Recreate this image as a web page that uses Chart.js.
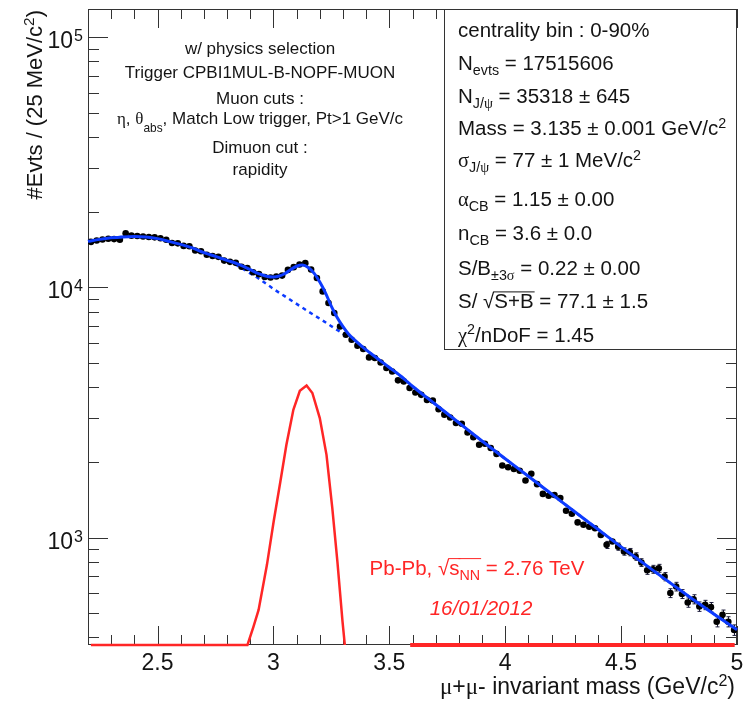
<!DOCTYPE html>
<html>
<head>
<meta charset="utf-8">
<title>J/psi dimuon mass</title>
<script src="https://cdn.jsdelivr.net/npm/chart.js@4.4.1/dist/chart.umd.min.js"></script>
<style>
  body { margin: 0; background: #fff; }
  canvas { display: block; }
</style>
</head>
<body>
<canvas id="massChart" width="753" height="702"></canvas>
<script>
// --- histogram: bin centres (GeV/c^2) and counts per 25 MeV ---
const binCenters = [
  2.2125, 2.2375, 2.2625, 2.2875, 2.3125, 2.3375, 2.3625, 2.3875, 2.4125, 2.4375,
  2.4625, 2.4875, 2.5125, 2.5375, 2.5625, 2.5875, 2.6125, 2.6375, 2.6625, 2.6875,
  2.7125, 2.7375, 2.7625, 2.7875, 2.8125, 2.8375, 2.8625, 2.8875, 2.9125, 2.9375,
  2.9625, 2.9875, 3.0125, 3.0375, 3.0625, 3.0875, 3.1125, 3.1375, 3.1625, 3.1875,
  3.2125, 3.2375, 3.2625, 3.2875, 3.3125, 3.3375, 3.3625, 3.3875, 3.4125, 3.4375,
  3.4625, 3.4875, 3.5125, 3.5375, 3.5625, 3.5875, 3.6125, 3.6375, 3.6625, 3.6875,
  3.7125, 3.7375, 3.7625, 3.7875, 3.8125, 3.8375, 3.8625, 3.8875, 3.9125, 3.9375,
  3.9625, 3.9875, 4.0125, 4.0375, 4.0625, 4.0875, 4.1125, 4.1375, 4.1625, 4.1875,
  4.2125, 4.2375, 4.2625, 4.2875, 4.3125, 4.3375, 4.3625, 4.3875, 4.4125, 4.4375,
  4.4625, 4.4875, 4.5125, 4.5375, 4.5625, 4.5875, 4.6125, 4.6375, 4.6625, 4.6875,
  4.7125, 4.7375, 4.7625, 4.7875, 4.8125, 4.8375, 4.8625, 4.8875, 4.9125, 4.9375,
  4.9625, 4.9875
];
const counts = [
  15200, 15400, 15550, 15650, 15600, 15500, 16450, 16100, 16050, 15980,
  15900, 15850, 15730, 15500, 15050, 15000, 14650, 14600, 14050, 13950,
  13500, 13350, 13250, 12800, 12650, 12550, 12100, 11950, 11500, 11300,
  11000, 10950, 11050, 11150, 11750, 12050, 12350, 12500, 11800, 10900,
  9640, 8660, 7900, 6980, 6470, 6180, 5850, 5670, 5250, 5220,
  5010, 4760, 4610, 4250, 4210, 3960, 3800, 3720, 3550, 3530,
  3260, 3100, 3020, 2870, 2850, 2630, 2520, 2350, 2370, 2280,
  2160, 1940, 1910, 1880, 1850, 1690, 1800, 1635, 1495, 1470,
  1480, 1440, 1280, 1245, 1150, 1125, 1105, 1090, 1025, 935,
  965, 920, 880, 875, 840, 795, 740, 747, 754, 698,
  600, 637, 595, 550, 567, 530, 538, 527, 461, 491,
  461, 427
];

// --- total fit (signal + background) ---
const fitMass = [
  2.2, 2.25, 2.3, 2.35, 2.4, 2.45, 2.5, 2.55, 2.6, 2.65, 2.7, 2.75, 2.8, 2.85, 2.9,
  2.925, 2.95, 2.975, 3.0, 3.025, 3.05, 3.075, 3.1, 3.125, 3.15, 3.175, 3.2, 3.225,
  3.25, 3.275, 3.3, 3.325, 3.35, 3.4, 3.45, 3.5, 3.55, 3.6,
  3.7, 3.8, 3.9, 4.0, 4.1, 4.2, 4.3, 4.4, 4.5, 4.6, 4.7, 4.8, 4.9, 5.0
];
const fitTotal = [
  15280, 15560, 15780, 15920, 15960, 15890, 15670, 15280, 14860, 14390, 13770, 13300, 12830, 12370, 11780,
  11470, 11240, 11060, 11010, 11110, 11370, 11790, 12150, 12280, 12020, 11400, 10500, 9494,
  8398, 7581, 6971, 6500, 6165, 5623, 5188, 4786, 4416, 4027,
  3404, 2877, 2432, 2065, 1758, 1493, 1268, 1079, 918, 785, 671, 575, 495, 428
];

// --- background only (dashed) ---
const bgMass = [
  2.2, 2.25, 2.3, 2.35, 2.4, 2.45, 2.5, 2.55, 2.6, 2.65, 2.7, 2.75, 2.8, 2.85, 2.9,
  2.95, 3.0, 3.05, 3.1, 3.15, 3.2, 3.25, 3.3, 3.35, 3.4, 3.45, 3.5, 3.55, 3.6,
  3.7, 3.8, 3.9, 4.0, 4.1, 4.2, 4.3, 4.4, 4.5, 4.6, 4.7, 4.8, 4.9, 5.0
];
const bgCounts = [
  15280, 15560, 15780, 15920, 15960, 15890, 15670, 15280, 14860, 14390, 13770, 13240, 12710, 12130, 11380,
  10640, 9863, 9204, 8590, 8017, 7499, 6998, 6531, 6095, 5623, 5188, 4786, 4416, 4027,
  3404, 2877, 2432, 2065, 1758, 1493, 1268, 1079, 918, 785, 671, 575, 495, 428
];

// --- J/psi signal shape (red); values below the axis are drawn on the floor ---
const sigMass = [
  2.2125, 2.86, 2.888, 2.914, 2.936, 2.972, 3.001, 3.030, 3.056, 3.086, 3.114,
  3.143, 3.168, 3.200, 3.229, 3.254, 3.276, 3.298, 3.308, 3.45, 3.59, 4.99
];
const sigCounts = [
  0, 0, 372, 441, 514, 778, 1159, 1675, 2348, 3243, 3862,
  4055, 3783, 3004, 2142, 1311, 802, 462, 372, null, 0, 0
];

const xTickValues = [2.5, 3, 3.5, 4, 4.5, 5];
const xTickLabels = ['2.5', '3', '3.5', '4', '4.5', '5'];
const yTickValues = [1e3, 1e4, 1e5];
const yTickExponents = ['3', '4', '5'];

const xMin = 2.2, xMax = 5.0;
const yMin = 372, yMax = 129700;

const blue = '#0d3bff';
const red = '#ff2626';
const textColor = '#141414';
const sans = '"Liberation Sans", Arial, Helvetica, sans-serif';
const serif = '"Liberation Serif", "Times New Roman", serif';

// text pieces: [text, style]  style may hold sub / lsub / sup / greek / over / it
const cutText = [
  [['w/ physics selection']],
  [['Trigger CPBI1MUL-B-NOPF-MUON']],
  [['Muon cuts :']],
  [['η', 'greek'], [', '], ['θ', 'greek'], ['abs', 'lsub'], [', Match Low trigger, Pt>1 GeV/c']],
  [['Dimuon cut :']],
  [['rapidity']]
];
const fitInfo = [
  [['centrality bin : 0-90%']],
  [['N'], ['evts', 'sub'], [' = 17515606']],
  [['N'], ['J/', 'sub'], ['ψ', 'sub greek'], [' = 35318 ± 645']],
  [['Mass = 3.135 ± 0.001 GeV/c'], ['2', 'sup']],
  [['σ', 'greek'], ['J/', 'sub'], ['ψ', 'sub greek'], [' = 77 ± 1 MeV/c'], ['2', 'sup']],
  [['α', 'greek'], ['CB', 'sub'], [' = 1.15 ± 0.00']],
  [['n'], ['CB', 'sub'], [' = 3.6 ± 0.0']],
  [['S/B'], ['±3', 'sub'], ['σ', 'sub greek'], [' = 0.22 ± 0.00']],
  [['S/ '], ['√'], ['S+B', 'over'], [' = 77.1 ± 1.5']],
  [['χ', 'greek'], ['2', 'sup'], ['/nDoF = 1.45']]
];
const energyText = [['Pb-Pb, '], ['√'], ['s', 'over'], ['NN', 'sub over'], [' = 2.76 TeV']];
const dateText = [['16/01/2012', 'it']];
const xTitle = [['μ', 'greek'], ['+'], ['μ', 'greek'], ['- invariant mass (GeV/c'], ['2', 'sup'], [')']];
const yTitle = [['#Evts / (25 MeV/c'], ['2', 'sup'], [')']];

function partFont(style, size) {
  const small = style.includes('sub') || style.includes('sup');
  const s = small ? size * 0.7 : size;
  const fam = style.includes('greek') ? serif : sans;
  return (style.includes('it') ? 'italic ' : '') + s.toFixed(1) + 'px ' + fam;
}

function drawRich(ctx, parts, x, y, size, align) {
  let width = 0;
  for (const p of parts) {
    ctx.font = partFont(p[1] || '', size);
    width += ctx.measureText(p[0]).width;
  }
  let cx = x;
  if (align === 'center') cx = x - width / 2;
  if (align === 'right') cx = x - width;
  ctx.textAlign = 'left';
  ctx.textBaseline = 'alphabetic';
  for (const p of parts) {
    const style = p[1] || '';
    ctx.font = partFont(style, size);
    let dy = 0;
    if (style.includes('lsub')) dy = size * 0.45;
    else if (style.includes('sub')) dy = size * 0.25;
    else if (style.includes('sup')) dy = -size * 0.35;
    ctx.fillText(p[0], cx, y + dy);
    const w = ctx.measureText(p[0]).width;
    if (style.includes('over')) {
      ctx.beginPath();
      ctx.lineWidth = 1;
      ctx.strokeStyle = ctx.fillStyle;
      ctx.moveTo(cx - 1, y - size * 0.8);
      ctx.lineTo(cx + w + 1, y - size * 0.8);
      ctx.stroke();
    }
    cx += w;
  }
}

function line(ctx, x1, y1, x2, y2) {
  ctx.beginPath();
  ctx.moveTo(x1, y1);
  ctx.lineTo(x2, y2);
  ctx.stroke();
}

// ROOT-like frame, ticks on all four sides, error bars, labels and text boxes
const rootStyle = {
  id: 'rootStyle',
  beforeDatasetsDraw(chart) {
    const { ctx, chartArea: a, scales: { x, y } } = chart;
    ctx.save();
    ctx.strokeStyle = '#333';
    ctx.lineWidth = 1;
    ctx.strokeRect(a.left + 0.5, a.top + 0.5, a.right - a.left - 1, a.bottom - a.top - 1);

    for (let k = 22; k <= 50; k++) {
      const px = Math.round(x.getPixelForValue(k / 10)) + 0.5;
      const len = k % 5 === 0 ? 19 : 10;
      line(ctx, px, a.bottom, px, a.bottom - len);
      line(ctx, px, a.top, px, a.top + len);
    }
    for (let e = 2; e <= 5; e++) {
      for (let m = 1; m <= 9; m++) {
        const v = m * Math.pow(10, e);
        if (v < yMin || v > yMax) continue;
        const py = Math.round(y.getPixelForValue(v)) + 0.5;
        const len = m === 1 ? 20 : 11;
        line(ctx, a.left, py, a.left + len, py);
        line(ctx, a.right, py, a.right - len, py);
      }
    }

    // statistical error bars of the histogram
    ctx.strokeStyle = '#1c1c3a';
    ctx.lineWidth = 1;
    binCenters.forEach((m, i) => {
      const err = Math.sqrt(counts[i]);
      const px = Math.round(x.getPixelForValue(m)) + 0.5;
      const top = y.getPixelForValue(counts[i] + err);
      const bot = y.getPixelForValue(counts[i] - err);
      if (bot - top < 7) return;
      line(ctx, px, top, px, bot);
      line(ctx, px - 2, top, px + 2, top);
      line(ctx, px - 2, bot, px + 2, bot);
    });
    ctx.restore();
  },
  afterDraw(chart) {
    const { ctx, chartArea: a, scales: { x, y } } = chart;
    ctx.save();
    ctx.fillStyle = textColor;

    // axis labels
    xTickValues.forEach((v, i) => {
      ctx.font = '23px ' + sans;
      ctx.textAlign = 'center';
      ctx.fillText(xTickLabels[i], x.getPixelForValue(v), 670);
    });
    yTickValues.forEach((v, i) => {
      const py = y.getPixelForValue(v);
      ctx.font = '23px ' + sans;
      ctx.textAlign = 'right';
      ctx.fillText('10', 73, py + 11);
      ctx.font = '16px ' + sans;
      ctx.textAlign = 'left';
      ctx.fillText(yTickExponents[i], 74, py + 4);
    });

    drawRich(ctx, xTitle, 735, 694, 23, 'right');
    ctx.save();
    ctx.translate(42, 10);
    ctx.rotate(-Math.PI / 2);
    drawRich(ctx, yTitle, 0, 0, 22, 'right');
    ctx.restore();

    // selection text, top left
    const cutBaselines = [54, 78, 104, 124, 153, 175];
    cutText.forEach((parts, i) => drawRich(ctx, parts, 260, cutBaselines[i], 17, 'center'));

    // fit result box
    ctx.fillStyle = '#fff';
    ctx.fillRect(444, a.top, a.right - 444, 340);
    ctx.strokeStyle = '#333';
    ctx.lineWidth = 1;
    ctx.strokeRect(444.5, a.top + 0.5, a.right - 445, 340);
    ctx.fillStyle = textColor;
    const infoBaselines = [36.7, 70, 103.3, 135, 167, 206, 240, 275, 308.3, 341.5];
    fitInfo.forEach((parts, i) => drawRich(ctx, parts, 458, infoBaselines[i], 20.5, 'left'));

    // collision system and date
    ctx.fillStyle = red;
    drawRich(ctx, energyText, 477, 575, 20.5, 'center');
    drawRich(ctx, dateText, 481, 615, 20.5, 'center');
    ctx.restore();
  }
};

const ctx = document.getElementById('massChart').getContext('2d');

new Chart(ctx, {
  type: 'scatter',
  data: {
    datasets: [
      {
        label: 'fit',
        data: fitMass.map((m, i) => ({ x: m, y: fitTotal[i] })),
        showLine: true,
        borderColor: blue,
        borderWidth: 3,
        pointRadius: 0,
        cubicInterpolationMode: 'monotone',
        clip: 2
      },
      {
        label: 'data',
        data: binCenters.map((m, i) => ({ x: m, y: counts[i] })),
        showLine: false,
        pointRadius: 3.3,
        backgroundColor: '#000',
        borderWidth: 0
      },
      {
        label: 'background',
        data: bgMass.map((m, i) => ({ x: m, y: bgCounts[i] })),
        showLine: true,
        borderColor: blue,
        borderWidth: 2.5,
        borderDash: [4, 4],
        pointRadius: 0,
        cubicInterpolationMode: 'monotone',
        clip: 2
      },
      {
        label: 'signal',
        data: sigMass.map((m, i) => ({ x: m, y: sigCounts[i] === null ? null : Math.max(sigCounts[i], yMin) })),
        showLine: true,
        spanGaps: false,
        borderColor: red,
        borderWidth: 2.5,
        pointRadius: 0,
        clip: 4,
        segment: {
          borderWidth: c => (c.p0.parsed.x > 3.5 ? 4 : 2.5)
        }
      }
    ]
  },
  options: {
    responsive: false,
    animation: false,
    events: [],
    layout: { padding: { left: 88, right: 16, top: 9, bottom: 57 } },
    plugins: {
      legend: { display: false },
      tooltip: { enabled: false }
    },
    scales: {
      x: { type: 'linear', display: false, min: xMin, max: xMax },
      y: { type: 'logarithmic', display: false, min: yMin, max: yMax }
    }
  },
  plugins: [rootStyle]
});
</script>
</body>
</html>
